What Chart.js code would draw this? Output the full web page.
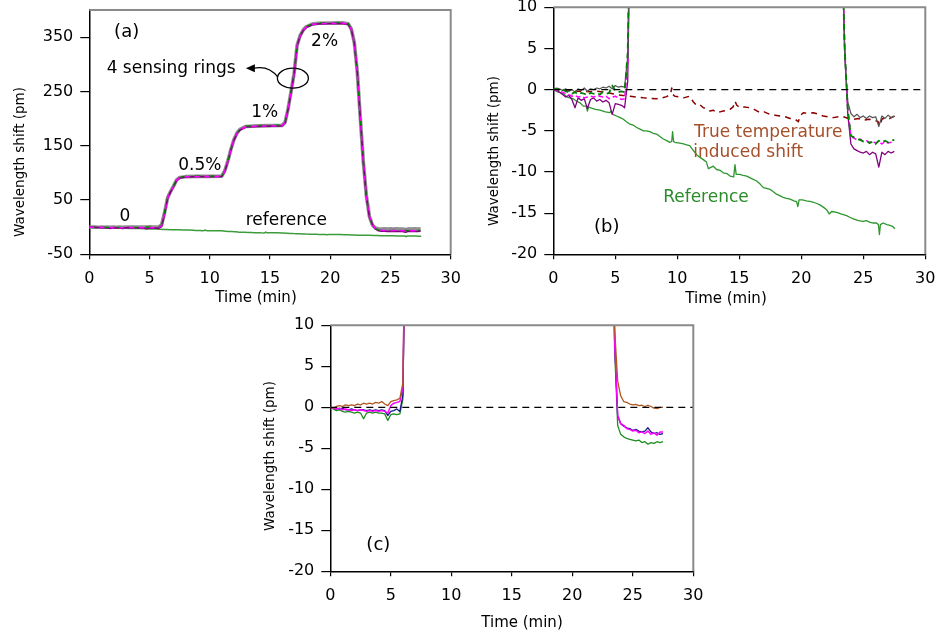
<!DOCTYPE html>
<html>
<head>
<meta charset="utf-8">
<script src="https://cdn.jsdelivr.net/npm/chart.js@4.4.1/dist/chart.umd.min.js"></script>
<style>
  html, body { margin: 0; padding: 0; background: #fff; }
  .panel { position: absolute; left: 0; top: 0; width: 935px; height: 636px; }
</style>
</head>
<body>
<div class="panel"><canvas id="chartA"></canvas></div>
<div class="panel"><canvas id="chartB"></canvas></div>
<div class="panel"><canvas id="chartC"></canvas></div>
<script>
// ---- tick values ----
const timeTicks = [0, 5, 10, 15, 20, 25, 30];
const shiftTicksA = [-50, 50, 150, 250, 350];
const shiftTicksBC = [-20, -15, -10, -5, 0, 5, 10];

// ---- raw sensing-ring shifts (pm) vs time (min) ----
const ringTime = [0, 0.25, 0.5, 0.75, 1, 1.25, 1.5, 1.75, 2, 2.25, 2.5, 2.75, 3, 3.25, 3.5, 3.75, 4, 4.25, 4.5, 4.75, 5, 5.25, 5.5, 5.75,
  6, 6.25, 6.5, 6.75, 7, 7.25, 7.5, 8, 9, 10, 11, 11.25, 11.5, 11.75, 12, 12.25, 12.5, 13, 14, 15, 16,
  16.25, 16.5, 16.75, 17, 17.25, 17.5, 17.75, 18, 18.5, 19, 20, 21,
  21.5, 21.75, 22, 22.25, 22.5, 22.75, 23, 23.25, 23.5, 23.75, 24,
  24.25, 24.5, 24.75, 25, 25.25, 25.5, 25.75, 26, 26.25, 26.5, 26.75, 27, 27.25, 27.5];

const ringGray = [0, 0.2, 0.1, -0.1, 0.1, -0.2, 0.0, -0.3, 0.1, -0.1, 0.2, -0.2, 0.1, 0.0, 0.2, 0.1, 0.3, 0.2, 0.4, 0.1, 0.5, 0.3, 0.4, 0.3,
  4, 27, 54, 66, 76, 87, 91.5, 93, 93.5, 93.5, 94, 104, 122, 143, 161, 173, 180, 185.5, 186.5, 187, 187.5,
  193, 218, 250, 283, 335, 353, 363, 369, 374, 375.5, 376, 376.5,
  374.5, 365, 340, 285, 200, 120, 58, 20, 4, -1.5, -2.9,
  -3.3, -3.0, -3.4, -3.2, -3.5, -3.2, -3.4, -3.3, -4.5, -3.2, -3.5, -3.1, -3.4, -3.2];

const ringGreen = [0, 0.1, -0.1, 0.0, -0.2, -0.3, -0.5, -0.3, -0.6, -0.4, -0.5, -0.7, -0.4, -0.5, -0.4, -0.6, -0.3, -0.5, -0.4, 0.5, -0.1, -0.3, -0.2, -0.3,
  4.5, 28, 55, 66.5, 76.5, 87.5, 92, 93.5, 94, 94, 94.5, 104.5, 122.5, 143.5, 161.5, 173.5, 180.5, 186, 187, 187.5, 188,
  193.5, 218.5, 250.5, 283.5, 335.5, 353.5, 363.5, 369.5, 374.5, 376, 376.5, 377,
  375, 365.5, 340.5, 285, 200, 120, 57, 19, 5, -2.5, -5.6,
  -5.8, -6.0, -6.1, -6.3, -6.2, -6.5, -6.3, -6.6, -6.2, -6.4, -6.2, -6.4, -6.2, -6.1];

const ringMagenta = [0, -0.1, -0.2, -0.3, -0.5, -0.6, -0.8, -0.7, -0.9, -0.8, -1.0, -0.9, -0.8, -0.9, -0.7, -0.8, -0.9, -0.8, -1.1, -0.9, -0.8, -1.0, -1.2, -1.1,
  3, 26, 53.5, 65.5, 75.5, 86.5, 91, 93, 93, 93.5, 93.5, 103.5, 121.5, 142.5, 160.5, 172.5, 179.5, 185, 186, 186.5, 187,
  192.5, 217.5, 249.5, 282.5, 334.5, 352.5, 362.5, 368.5, 373.5, 375, 375.5, 376,
  374, 364.5, 339.5, 284.5, 199.5, 119.5, 57, 19.5, 5, -2.5, -5.7,
  -5.9, -6.1, -6.0, -6.3, -6.2, -6.4, -6.3, -6.5, -6.3, -6.6, -6.3, -6.5, -6.4, -6.4];

const ringPurple = [0, -0.1, -0.3, -0.6, -0.9, -0.7, -1.2, -2.2, -1.0, -1.3, -1.1, -2.3, -1.2, -1.0, -1.4, -1.2, -1.5, -1.3, -1.6, -3.0, -1.7, -1.8, -1.9, -2.2,
  1, 25, 53, 65, 75, 86, 90.5, 92.5, 93, 93, 93.5, 103, 121, 142, 160, 172, 179, 184.5, 185.5, 186, 186.5,
  192, 217, 249, 282, 334, 352, 362, 368, 373, 374.5, 375, 375.5,
  373.5, 364, 339, 284, 199, 119, 56.5, 19, 5, -3, -6.6,
  -7.2, -7.4, -7.6, -7.7, -7.5, -7.9, -7.6, -7.8, -9.4, -7.6, -7.9, -7.5, -7.7, -7.5];

// ---- reference ring ----
const refTime = [0, 0.4, 0.8, 1.1, 1.34, 1.6, 1.88, 2.15, 2.42, 2.65, 2.75, 2.85, 2.96, 3.4, 3.76, 4.2, 4.57, 4.65, 4.8, 5.1, 5.4, 5.65, 5.9,
  6.18, 6.45, 6.72, 7.0, 7.26, 7.5, 7.8, 8.05, 8.33, 8.6, 8.87, 9.15, 9.4, 9.55, 9.62, 9.7, 9.8, 10.2, 10.5, 10.75, 11.0,
  11.3, 11.56, 11.8, 12.1, 12.35, 12.5, 12.63, 12.9, 13.17, 13.45, 13.7, 14.0, 14.25, 14.55, 14.65, 14.75, 15.05, 15.3, 15.6,
  16.0, 16.4, 16.7, 16.94, 17.2, 17.47, 17.75, 18.0, 18.3, 18.55, 18.8, 19.1, 19.4, 19.62, 19.72, 19.82, 20.1, 20.4, 20.8,
  21.2, 21.5, 21.8, 22.05, 22.25, 22.45, 22.85, 23.2, 23.65, 23.9, 24.2, 24.6, 25.0, 25.25, 25.5, 25.8, 26.07, 26.22, 26.3,
  26.38, 26.6, 26.9, 27.15, 27.35, 27.55];
const refShift = [0, -0.3, -0.5, -0.9, -1.0, -1.1, -1.4, -1.6, -2.0, -2.0, -2.6, -2.1, -2.2, -2.4, -2.5, -2.7, -2.8, -2.6, -3.0, -3.2, -3.4, -3.6, -3.9,
  -4.2, -4.3, -4.6, -4.8, -5.0, -5.0, -5.1, -5.3, -5.4, -5.7, -6.0, -6.2, -6.4, -6.3, -5.1, -6.3, -6.4, -6.5, -6.6, -6.7, -6.8,
  -7.4, -7.9, -8.2, -8.5, -8.8, -9.6, -9.5, -9.3, -9.7, -9.8, -10.1, -10.2, -10.5, -10.6, -9.1, -10.3, -10.3, -10.4, -10.5,
  -10.8, -11.1, -11.5, -11.9, -12.0, -12.1, -12.4, -12.7, -12.9, -13.1, -13.2, -13.3, -13.5, -13.6, -14.2, -13.4, -13.4, -13.5, -13.6,
  -13.8, -14.0, -14.3, -14.6, -15.1, -14.8, -14.9, -15.1, -15.3, -15.5, -15.7, -15.9, -16.0, -15.9, -16.1, -16.2, -16.2, -16.4, -17.6,
  -16.4, -16.2, -16.4, -16.5, -16.6, -16.9];

// ---- true temperature induced shift ----
const tempTime = [0, 0.5, 1.0, 1.5, 2.0, 2.5, 3.0, 3.5, 4.0, 4.5, 5.1, 5.6, 6.2, 6.7, 7.26, 7.8, 8.33, 8.8, 9.14, 9.45, 9.55, 9.65, 9.8,
  10.2, 10.5, 11.0, 11.3, 11.56, 11.8, 12.1, 12.4, 12.63, 12.9, 13.17, 13.45, 13.7, 14.0, 14.25, 14.5, 14.65, 14.8, 15.05, 15.4,
  15.86, 16.2, 16.67, 17.0, 17.47, 17.9, 18.28, 18.7, 19.1, 19.5, 19.76, 19.9, 20.16, 20.6, 20.97, 21.4, 21.77, 22.2, 22.58,
  23.0, 23.39, 23.8, 24.2, 24.6, 25.0, 25.5, 25.9, 26.2, 26.34, 26.5, 26.75, 27.1, 27.55];
const tempShift = [0, -0.05, -0.1, -0.1, -0.2, -0.2, -0.25, -0.2, -0.3, -0.4, -0.6, -0.7, -0.8, -0.9, -1.0, -1.05, -1.1, -1.0, -0.85, -0.6, 0.2, -0.6, -0.8,
  -0.9, -1.0, -0.8, -1.5, -1.9, -1.8, -2.2, -2.3, -2.6, -2.5, -2.8, -2.7, -2.6, -2.5, -2.4, -2.1, -1.4, -1.9, -2.2, -2.1,
  -2.2, -2.4, -2.8, -2.7, -3.0, -3.1, -3.2, -3.3, -3.5, -3.6, -3.9, -3.2, -2.8, -2.9, -2.8, -3.0, -3.2, -3.3, -3.4,
  -3.3, -3.3, -3.5, -3.6, -3.5, -3.7, -3.6, -3.7, -3.9, -4.4, -3.6, -3.4, -3.5, -3.2];

// ---- compensated ring shifts ----
const compTime = [0, 0.25, 0.5, 0.75, 1, 1.25, 1.5, 1.75, 2, 2.25, 2.5, 2.75, 3, 3.25, 3.5, 3.75, 4, 4.25, 4.5, 4.75, 5, 5.25, 5.5, 5.75,
  6, 6.25, 6.5, 8, 11, 13, 16.5, 18, 21.5, 22.5, 23.25, 23.5, 23.75, 24,
  24.25, 24.5, 24.75, 25, 25.25, 25.5, 25.75, 26, 26.25, 26.5, 26.75, 27, 27.25, 27.5];
const compBrown = [0, -0.1, 0.1, 0.2, 0.1, 0.3, 0.2, 0.3, 0.2, 0.4, 0.3, 0.5, 0.4, 0.5, 0.4, 0.6, 0.5, 0.7, 0.4, 0.2, 0.7, 0.8, 0.9, 1.1,
  3, 30, 57, 98, 100, 193, 226, 381, 389, 214, 35, 9.5, 3.2, 1.4,
  0.7, 0.6, 0.4, 0.3, 0.35, 0.2, 0.25, 0.1, 0.25, 0.1, -0.1, -0.15, 0.0, 0.0];
const compMagenta = [0, -0.1, -0.2, -0.1, -0.3, -0.2, -0.3, -0.4, -0.3, -0.4, -0.3, -0.4, -0.5, -0.4, -0.5, -0.4, -0.5, -0.4, -0.5, -0.7, 0.2, 0.5, 0.6, 0.7,
  2.5, 29, 56, 97, 99, 192, 225, 380, 388, 213, 33, 8, -1, -2.0,
  -2.2, -2.6, -2.7, -2.9, -2.8, -3.1, -3.0, -3.2, -2.9, -3.3, -3.1, -3.4, -3.0, -3.0];
const compBlue = [0, -0.1, -0.2, -0.2, -0.1, -0.3, -0.3, -0.2, -0.3, -0.4, -0.3, -0.3, -0.4, -0.3, -0.4, -0.3, -0.4, -0.3, -0.4, -1.0, -0.5, -0.4, -0.2, -0.5,
  1.5, 28, 55.5, 97, 99, 192, 225, 380, 388, 213, 33, 8, -1, -2.0,
  -2.3, -2.5, -2.6, -2.8, -2.7, -2.9, -3.0, -2.9, -2.5, -3.0, -3.2, -3.1, -3.3, -3.2];
const compGreen = [0, -0.2, -0.4, -0.3, -0.5, -0.6, -0.5, -0.6, -0.7, -0.6, -0.7, -1.4, -0.7, -0.6, -0.7, -0.6, -0.7, -0.7, -0.8, -1.6, -0.9, -0.8, -0.9, -0.8,
  1, 27, 55, 96.5, 98.5, 191.5, 224.5, 379.5, 387.5, 212, 32, 7, -2.2, -3.3,
  -3.6, -3.8, -3.9, -4.0, -4.1, -4.0, -4.3, -4.2, -4.5, -4.3, -4.4, -4.2, -4.3, -4.2];

// zero baseline
const zeroTime = [0, 30];
const zeroShift = [0, 0];

// ---- helpers ----
const FONT = '"DejaVu Sans", sans-serif';
Chart.defaults.font.family = FONT;
Chart.defaults.color = '#000';

const pts = (t, v) => t.map((x, i) => ({ x, y: v[i] }));

// Chart.js paints the first dataset last, so lists below go from top layer to bottom layer
function line(data, color, width, dash) {
  return {
    data, borderColor: color, borderWidth: width, borderDash: dash || [],
    pointRadius: 0, fill: false, tension: 0, borderJoinStyle: 'round', borderCapStyle: 'butt'
  };
}

function scales(yMin, yMax, yTicks) {
  return {
    x: {
      type: 'linear', min: 0, max: 30,
      afterBuildTicks: s => { s.ticks = timeTicks.map(v => ({ value: v })); },
      afterFit: s => { s.height = 50; s.paddingLeft = 0; s.paddingRight = 0; },
      grid: { drawOnChartArea: false, drawTicks: true, tickLength: 5, color: '#000', lineWidth: 1.2 },
      border: { color: '#000', width: 1.5 },
      ticks: { padding: 10, font: { size: 16 }, color: '#000', maxRotation: 0, autoSkip: false }
    },
    y: {
      type: 'linear', min: yMin, max: yMax,
      afterBuildTicks: s => { s.ticks = yTicks.map(v => ({ value: v })); },
      afterFit: s => { s.width = 70; s.paddingTop = 0; s.paddingBottom = 0; },
      grid: { drawOnChartArea: false, drawTicks: true, tickLength: 9, color: '#000', lineWidth: 1.2 },
      border: { color: '#000', width: 1.5 },
      ticks: { padding: 7, font: { size: 16 }, color: '#000', autoSkip: false }
    }
  };
}

// text placed either at data coordinates (t, v) or page pixels (px, py)
const notesPlugin = {
  id: 'notes',
  afterDraw(chart, args, opts) {
    const ctx = chart.ctx;
    const xs = chart.scales.x, ys = chart.scales.y;
    (opts.items || []).forEach(it => {
      ctx.save();
      ctx.font = (it.size || 15) + 'px ' + FONT;
      ctx.fillStyle = it.color || '#000';
      ctx.textAlign = it.align || 'center';
      ctx.textBaseline = 'middle';
      const px = it.t !== undefined ? xs.getPixelForValue(it.t) : it.px;
      const py = it.v !== undefined ? ys.getPixelForValue(it.v) : it.py;
      ctx.translate(px, py);
      if (it.rotate) ctx.rotate(it.rotate);
      ctx.fillText(it.text, 0, 0);
      ctx.restore();
    });
  }
};

// gray box edges on top and right of the plot area
const framePlugin = {
  id: 'frame',
  afterDraw(chart) {
    const { ctx, chartArea: a } = chart;
    ctx.save();
    ctx.strokeStyle = '#8a8a8a';
    ctx.lineWidth = 2;
    ctx.beginPath();
    ctx.moveTo(a.left, a.top);
    ctx.lineTo(a.right, a.top);
    ctx.lineTo(a.right, a.bottom);
    ctx.stroke();
    ctx.restore();
  }
};

// circled crossing with a curved arrow pointing to its label
const calloutPlugin = {
  id: 'callout',
  afterDraw(chart, args, opts) {
    if (!opts.enabled) return;
    const ctx = chart.ctx;
    const cx = chart.scales.x.getPixelForValue(opts.t);
    const cy = chart.scales.y.getPixelForValue(opts.v);
    ctx.save();
    ctx.strokeStyle = '#000';
    ctx.lineWidth = 1.3;
    ctx.beginPath();
    ctx.ellipse(cx, cy, 15.5, 10, 0, 0, Math.PI * 2);
    ctx.stroke();
    const sx = cx - 15, sy = cy - 1;
    const ex = cx - 39, ey = cy - 10;
    ctx.beginPath();
    ctx.moveTo(sx, sy);
    ctx.quadraticCurveTo(cx - 24, cy - 13, ex, ey);
    ctx.stroke();
    ctx.fillStyle = '#000';
    ctx.beginPath();
    ctx.moveTo(ex - 8, ey);
    ctx.lineTo(ex + 1, ey - 4);
    ctx.lineTo(ex + 1, ey + 4);
    ctx.closePath();
    ctx.fill();
    ctx.restore();
  }
};

function makeChart(id, datasets, yMin, yMax, yTicks, padding, pluginOpts) {
  return new Chart(document.getElementById(id), {
    type: 'line',
    data: { datasets },
    options: {
      responsive: true, maintainAspectRatio: false, devicePixelRatio: 1,
      animation: false, events: [],
      layout: { padding },
      scales: scales(yMin, yMax, yTicks),
      plugins: Object.assign({ legend: { display: false }, tooltip: { enabled: false } }, pluginOpts)
    },
    plugins: [notesPlugin, framePlugin, calloutPlugin]
  });
}

const ROT = -Math.PI / 2;

// (a) full response of the four sensing rings and the reference ring
makeChart('chartA', [
  line(pts(ringTime, ringMagenta), '#ff00ff', 1.5, [5, 5]),
  line(pts(ringTime, ringGreen), '#008000', 1.3, [6, 8]),
  line(pts(ringTime, ringPurple), '#800080', 1.7),
  line(pts(ringTime, ringGray), '#8f8f8f', 3.6),
  line(pts(refTime, refShift), '#3c9c3c', 1.5)
], -50, 400, shiftTicksA,
  { left: 19.3, right: 484.3, top: 10, bottom: 331.7 },
  {
    notes: { items: [
      { text: '(a)', t: 3.1, v: 359, size: 18 },
      { text: '2%', t: 19.53, v: 342, size: 17 },
      { text: '1%', t: 14.56, v: 211, size: 17 },
      { text: '0.5%', t: 9.17, v: 113, size: 17 },
      { text: '0', t: 2.96, v: 19, size: 17 },
      { text: 'reference', t: 16.35, v: 12, size: 17 },
      { text: '4 sensing rings', t: 1.44, v: 291.6, size: 17, align: 'left' },
      { text: 'Wavelength shift (pm)', px: 20, py: 162, size: 13.5, rotate: ROT },
      { text: 'Time (min)', px: 256, py: 298, size: 15 }
    ] },
    callout: { enabled: true, t: 16.9, v: 274.4 }
  });

// (b) close-up around zero with the true temperature induced shift
makeChart('chartB', [
  line(pts(zeroTime, zeroShift), '#000000', 1.3, [7, 5]),
  line(pts(ringTime, ringGreen), '#008000', 1.8, [6, 4]),
  line(pts(ringTime, ringGray), '#555555', 1.2),
  line(pts(ringTime, ringMagenta), '#ff00ff', 1.5, [5, 3]),
  line(pts(ringTime, ringPurple), '#800080', 1.3),
  line(pts(tempTime, tempShift), '#8b0000', 1.5, [6, 5]),
  line(pts(refTime, refShift), '#2e962e', 1.3)
], -20, 10, shiftTicksBC,
  { left: 483.3, right: 9.7, top: 7.3, bottom: 331.7 },
  {
    notes: { items: [
      { text: 'True temperature', t: 11.35, v: -5.19, size: 17, color: '#a5502a', align: 'left' },
      { text: 'induced shift', t: 11.29, v: -7.62, size: 17, color: '#a5502a', align: 'left' },
      { text: 'Reference', t: 12.31, v: -13.08, size: 17, color: '#2a8c2a' },
      { text: '(b)', t: 4.31, v: -16.77, size: 18 },
      { text: 'Wavelength shift (pm)', px: 494.5, py: 151, size: 13.5, rotate: ROT },
      { text: 'Time (min)', px: 726, py: 299, size: 15 }
    ] },
    callout: { enabled: false }
  });

// (c) temperature-compensated ring shifts
makeChart('chartC', [
  line(pts(zeroTime, zeroShift), '#000000', 1.3, [7, 5]),
  line(pts(compTime, compBrown), '#b0561e', 1.3),
  line(pts(compTime, compMagenta), '#ff00ff', 1.5),
  line(pts(compTime, compBlue), '#1a1a8c', 1.3),
  line(pts(compTime, compGreen), '#1e8c1e', 1.3)
], -20, 10, shiftTicksBC,
  { left: 260.3, right: 241.7, top: 325.3, bottom: 14.7 },
  {
    notes: { items: [
      { text: '(c)', t: 3.97, v: -16.88, size: 18 },
      { text: 'Wavelength shift (pm)', px: 270.5, py: 456, size: 13.5, rotate: ROT },
      { text: 'Time (min)', px: 522, py: 623, size: 15 }
    ] },
    callout: { enabled: false }
  });
</script>
</body>
</html>
